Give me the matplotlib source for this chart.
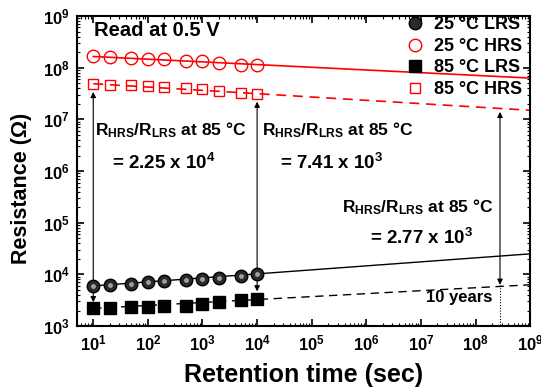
#!/usr/bin/env python3
"""Retention of LRS/HRS at 25 and 85 C with 10-year extrapolation."""
import matplotlib
matplotlib.use("Agg")
import matplotlib.pyplot as plt
from matplotlib.ticker import LogLocator, NullFormatter

plt.rcParams["font.family"] = ["Liberation Sans", "DejaVu Sans"]
plt.rcParams["font.weight"] = "bold"
plt.rcParams["mathtext.fontset"] = "custom"
plt.rcParams["mathtext.rm"] = "Liberation Sans"
plt.rcParams["mathtext.bf"] = "Liberation Sans:bold"
plt.rcParams["mathtext.it"] = "Liberation Sans:bold"
plt.rcParams["mathtext.default"] = "bf"

# measured retention (seconds) and resistance (ohm)
time_s = [10, 20, 50, 100, 200, 500, 1000, 2000, 5000, 10000]
lrs_25 = [6.0e3, 6.2e3, 6.5e3, 7.2e3, 7.6e3, 7.9e3, 8.1e3, 8.7e3, 9.4e3, 1.0e4]
hrs_25 = [1.66e8, 1.62e8, 1.55e8, 1.48e8, 1.48e8, 1.37e8, 1.32e8, 1.23e8, 1.12e8, 1.12e8]
lrs_85 = [2.2e3, 2.2e3, 2.3e3, 2.3e3, 2.5e3, 2.5e3, 2.65e3, 2.9e3, 3.2e3, 3.4e3]
hrs_85 = [4.8e7, 4.7e7, 4.7e7, 4.5e7, 4.3e7, 4.1e7, 3.9e7, 3.6e7, 3.2e7, 3.1e7]

# extrapolated fit lines (end points)
fit_t = [10, 1e9]
fit_lrs_25 = [6.0e3, 2.5e4]
fit_hrs_25 = [1.65e8, 6.3e7]
fit_lrs_85 = [2.2e3, 6.3e3]
fit_hrs_85 = [4.9e7, 1.5e7]

ten_years = 2.8e8

fig = plt.figure(figsize=(5.41, 3.91), dpi=100)
ax = fig.add_axes([0.142, 0.166, 0.838, 0.793])

ax.plot(fit_t, fit_hrs_25, color="red", lw=1.2, zorder=2)
ax.plot(fit_t, fit_hrs_85, color="red", lw=1.2, ls=(0, (6, 4)), zorder=2)
ax.plot(fit_t, fit_lrs_25, color="black", lw=1.0, zorder=2)
ax.plot(fit_t, fit_lrs_85, color="black", lw=1.0, ls=(0, (6, 4)), zorder=2)

deg = r"$\mathrm{°C}$"
ax.plot(time_s, lrs_25, ls="none", marker="o", ms=9, mfc="#2a2a2a", mec="black",
        mew=1.0, label=f"25 {deg} LRS", zorder=4)
ax.plot(time_s, lrs_25, ls="none", marker="o", ms=3.5, mfc="#a0a0a0", mec="none", zorder=5)
ax.plot(time_s, hrs_25, ls="none", marker="o", ms=9, mfc="none", mec="red",
        mew=1.0, label=f"25 {deg} HRS", zorder=4)
ax.plot(time_s, lrs_85, ls="none", marker="s", ms=8, mfc="black", mec="black",
        label=f"85 {deg} LRS", zorder=4)
ax.plot(time_s, hrs_85, ls="none", marker="s", ms=7.5, mfc="none", mec="red",
        mew=1.0, label=f"85 {deg} HRS", zorder=4)

arrow = dict(arrowstyle="<|-|>", color="black", lw=0.8, mutation_scale=8,
             shrinkA=0, shrinkB=0)
ax.annotate("", xy=(10, 3.4e7), xytext=(10, 2.9e3), arrowprops=arrow)
ax.annotate("", xy=(1e4, 2.2e7), xytext=(1e4, 4.7e3), arrowprops=arrow)
ax.annotate("", xy=(ten_years, 1.4e7), xytext=(ten_years, 6.3e3), arrowprops=arrow)
ax.plot([ten_years, ten_years], [6.3e3, 1e3], color="black", lw=0.8, ls=(0, (1, 1.5)))

ax.text(10.3, 10**8.72, "Read at 0.5 V", fontsize=14.5, ha="left", va="center")
ratio = r"$R_{HRS}/R_{LRS}$ at 85 $\mathrm{°C}$"
ax.text(10**1.04, 10**6.8, ratio, fontsize=12.5, ha="left", va="center")
ax.text(10**1.35, 10**6.16, r"= 2.25 x 10$^{4}$", fontsize=13.5, ha="left", va="center")
ax.text(10**4.09, 10**6.8, ratio, fontsize=12.5, ha="left", va="center")
ax.text(10**4.42, 10**6.16, r"= 7.41 x 10$^{3}$", fontsize=13.5, ha="left", va="center")
ax.text(10**5.56, 10**5.31, ratio, fontsize=12.5, ha="left", va="center")
ax.text(10**6.07, 10**4.7, r"= 2.77 x 10$^{3}$", fontsize=13.5, ha="left", va="center")
ax.text(10**7.7, 10**3.55, "10 years", fontsize=12, ha="center", va="center")

ax.set_xscale("log")
ax.set_yscale("log")
ax.set_xlim(5, 1e9)
ax.set_ylim(1e3, 1e9)
ax.xaxis.set_minor_locator(LogLocator(base=10, subs=range(2, 10), numticks=12))
ax.xaxis.set_minor_formatter(NullFormatter())
ax.yaxis.set_minor_formatter(NullFormatter())
ax.set_xticks([10**k for k in range(1, 10)])
ax.tick_params(which="both", direction="in", top=True, right=True, labelsize=12)
ax.tick_params(which="major", length=5, width=1.2, pad=5)
ax.tick_params(which="minor", length=2.5, width=0.8)
for spine in ax.spines.values():
    spine.set_linewidth(1.5)

ax.set_xlabel("Retention time (sec)", fontsize=18, fontweight="bold", labelpad=7)
ax.set_ylabel("Resistance (Ω)", fontsize=15.5, fontweight="bold")
ax.yaxis.set_label_coords(-0.099, 0.445)

ax.legend(loc="upper right", frameon=False, fontsize=13, handletextpad=0.3,
          labelspacing=0.25, borderaxespad=0.0, handlelength=1.4,
          bbox_to_anchor=(1.0, 1.022))

fig.savefig("out.png", dpi=100)
